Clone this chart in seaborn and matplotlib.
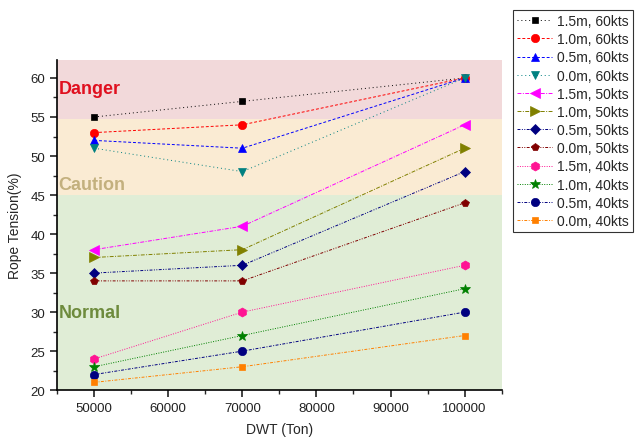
import pandas as pd
import seaborn as sns
import matplotlib.pyplot as plt
from matplotlib.ticker import MultipleLocator

sns.set_style("ticks")
plt.rcParams['font.family'] = ['Liberation Sans', 'DejaVu Sans']

dwt = [50000, 70000, 100000]

labels = ["1.5m, 60kts", "1.0m, 60kts", "0.5m, 60kts", "0.0m, 60kts",
          "1.5m, 50kts", "1.0m, 50kts", "0.5m, 50kts", "0.0m, 50kts",
          "1.5m, 40kts", "1.0m, 40kts", "0.5m, 40kts", "0.0m, 40kts"]

tension_15m_60 = [55, 57, 60]
tension_10m_60 = [53, 54, 60]
tension_05m_60 = [52, 51, 60]
tension_00m_60 = [51, 48, 60]
tension_15m_50 = [38, 41, 54]
tension_10m_50 = [37, 38, 51]
tension_05m_50 = [35, 36, 48]
tension_00m_50 = [34, 34, 44]
tension_15m_40 = [24, 30, 36]
tension_10m_40 = [23, 27, 33]
tension_05m_40 = [22, 25, 30]
tension_00m_40 = [21, 23, 27]

seriesValues = [tension_15m_60, tension_10m_60, tension_05m_60, tension_00m_60,
                tension_15m_50, tension_10m_50, tension_05m_50, tension_00m_50,
                tension_15m_40, tension_10m_40, tension_05m_40, tension_00m_40]

colors = ["#000000", "#FF0000", "#0000FF", "#008080",
          "#FF00FF", "#808000", "#000080", "#800000",
          "#FF1493", "#008000", "#000080", "#FF8000"]
markers = ["s", "o", "^", "v", "<", ">", "D", "p", "h", "*", "o", "s"]
msizes = [5, 6, 6, 6, 6.5, 6.5, 5, 6, 6.5, 7, 6, 5]
styles = [(0, (1, 3)), (0, (3, 2)), (0, (3, 2)), (0, (1, 3)),
          (0, (4, 1.5, 1, 1.5)), (0, (4, 1.5, 1, 1.5)), (0, (3, 1.5, 1, 1.5, 1, 1.5)), (0, (3, 1.5, 1, 1.5, 1, 1.5)),
          (0, (1, 1.5)), (0, (1, 1.5)), (0, (3, 1.5, 1, 1.5)), (0, (3, 1.5, 1, 1.5))]

rows = []
for label, vals in zip(labels, seriesValues):
    for x, y in zip(dwt, vals):
        rows.append({"series": label, "DWT": x, "tension": y})
df = pd.DataFrame(rows)

fig = plt.figure(figsize=(6.35, 4.39), dpi=100)
ax = fig.add_axes([0.09, 0.109, 0.70, 0.752])

ax.axhspan(54.75, 70, color="#F2D9DA", zorder=0, lw=0)
ax.axhspan(45, 54.75, color="#FAEBD3", zorder=0, lw=0)
ax.axhspan(0, 45, color="#E0EDD6", zorder=0, lw=0)

for i, label in enumerate(labels):
    sub = df[df["series"] == label]
    sns.lineplot(data=sub, x="DWT", y="tension", ax=ax, color=colors[i],
                 marker=markers[i], markersize=msizes[i], markeredgewidth=0.5,
                 markeredgecolor=colors[i], linewidth=0.7, linestyle=styles[i],
                 label=label, zorder=3)

narrow = ['Liberation Sans Narrow', 'Liberation Sans', 'DejaVu Sans']
ax.text(45150, 58.6, "Danger", color="#E0101F", fontsize=13, fontweight="bold",
        va="center", family=narrow)
ax.text(45150, 46.3, "Caution", color="#C3B07E", fontsize=13, fontweight="bold",
        va="center", family=narrow)
ax.text(45150, 30, "Normal", color="#6E8B3D", fontsize=13, fontweight="bold",
        va="center", family=narrow)

ax.set_xlim(45000, 105000)
ax.set_ylim(20, 62.3)
ax.xaxis.set_major_locator(MultipleLocator(10000))
ax.xaxis.set_minor_locator(MultipleLocator(5000))
ax.yaxis.set_major_locator(MultipleLocator(5))
ax.yaxis.set_minor_locator(MultipleLocator(2.5))
ax.tick_params(which="major", direction="out", length=5, width=1.2, labelsize=9.5, colors="#222222")
ax.tick_params(which="minor", direction="out", length=3, width=1.0)
for side in ["top", "right"]:
    ax.spines[side].set_visible(False)
for side in ["left", "bottom"]:
    ax.spines[side].set_linewidth(1.2)
    ax.spines[side].set_color("black")

ax.set_xlabel("DWT (Ton)", fontsize=10, labelpad=6)
ax.set_ylabel("Rope Tension(%)", fontsize=10, labelpad=6)

leg = ax.legend(loc="upper left", bbox_to_anchor=(513 / 635, 1 - 11 / 439),
                bbox_transform=fig.transFigure, borderaxespad=0, fontsize=10,
                labelspacing=0.3, handlelength=2.5, handletextpad=0.35,
                frameon=True, fancybox=False, edgecolor="black", borderpad=0.3)
leg.get_frame().set_linewidth(0.8)

fig.savefig("out.png", dpi=100)
